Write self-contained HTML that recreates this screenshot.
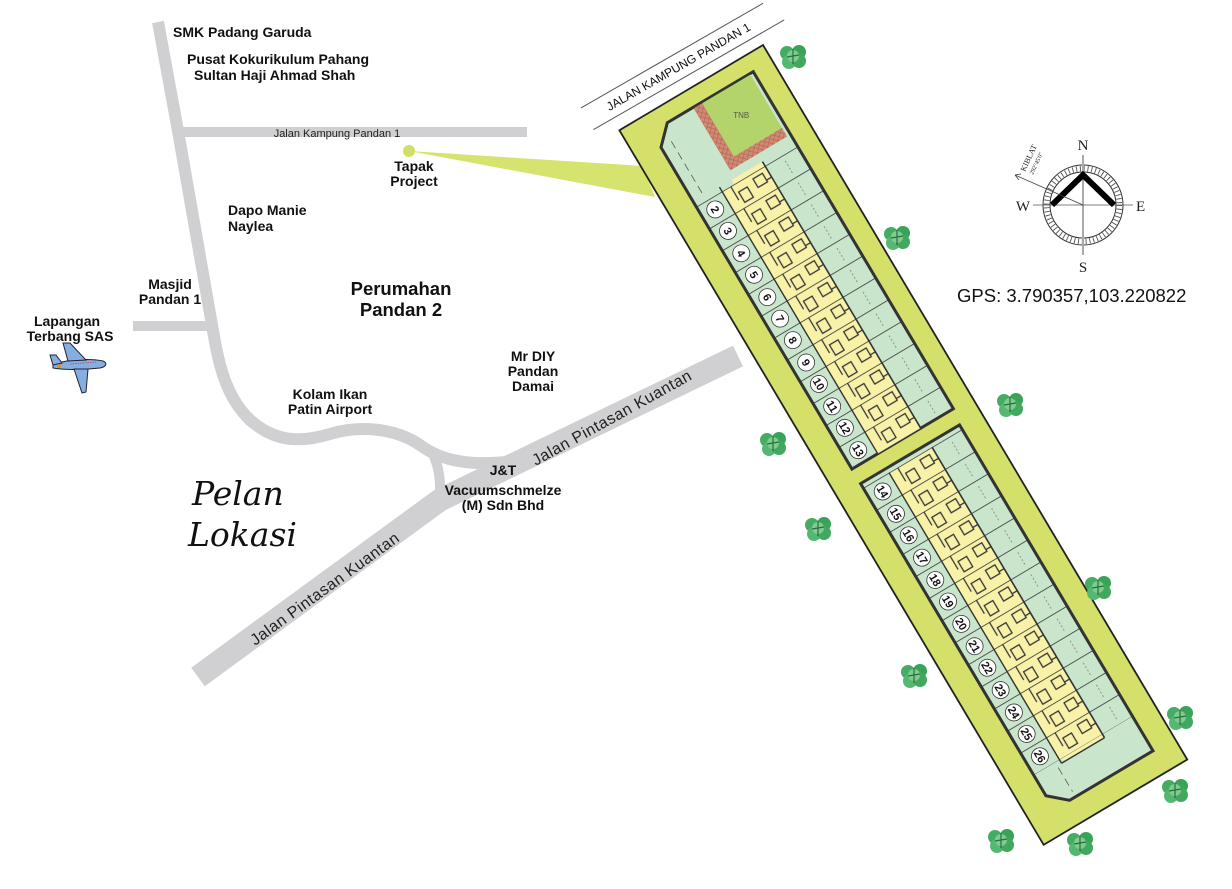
<!DOCTYPE html>
<html><head><meta charset="utf-8"><style>
html,body{margin:0;padding:0;background:#fff}
svg{display:block}
.t{font-family:"Liberation Sans",sans-serif;font-weight:bold;fill:#111}
</style></head><body>
<svg width="1232" height="889" viewBox="0 0 1232 889" xmlns="http://www.w3.org/2000/svg">
<defs>
<pattern id="u1" patternUnits="userSpaceOnUse" x="105" y="0" width="25.4" height="200">
<line x1="0" y1="22" x2="0" y2="140" stroke="#333" stroke-width="1.6"/>
<rect x="5" y="66" width="10" height="11" fill="none" stroke="#333" stroke-width="1.3"/>
<line x1="13" y1="60" x2="13" y2="66" stroke="#333" stroke-width="1.3"/>
<rect x="9" y="86" width="12" height="10" fill="none" stroke="#333" stroke-width="1.3"/>
<line x1="0" y1="100" x2="16" y2="100" stroke="#333" stroke-width="1.3"/>
<line x1="6" y1="40" x2="22" y2="40" stroke="#777" stroke-width="0.8" stroke-dasharray="2 2"/>
</pattern>
<pattern id="u2" patternUnits="userSpaceOnUse" x="432" y="0" width="25.67" height="200">
<line x1="0" y1="22" x2="0" y2="140" stroke="#333" stroke-width="1.6"/>
<rect x="5" y="66" width="10" height="11" fill="none" stroke="#333" stroke-width="1.3"/>
<line x1="13" y1="60" x2="13" y2="66" stroke="#333" stroke-width="1.3"/>
<rect x="9" y="86" width="12" height="10" fill="none" stroke="#333" stroke-width="1.3"/>
<line x1="0" y1="100" x2="16" y2="100" stroke="#333" stroke-width="1.3"/>
<line x1="6" y1="40" x2="22" y2="40" stroke="#777" stroke-width="0.8" stroke-dasharray="2 2"/>
</pattern>
<pattern id="brick" patternUnits="userSpaceOnUse" width="6" height="6">
<rect width="6" height="6" fill="#d08a74"/><path d="M0 6L6 0M0 0L6 6" stroke="#b0604e" stroke-width="0.6"/>
</pattern>
<g id="tree"><circle cx="-6" cy="-3" r="7" fill="#45ad63"/><circle cx="6" cy="-4" r="7" fill="#3aa35a"/><circle cx="-4" cy="6" r="7" fill="#55b872"/><circle cx="6" cy="5" r="7" fill="#42a860"/><circle cx="0" cy="0" r="6" fill="#7fcc8f"/><path d="M0 -7V8M-6 1L6 -1" stroke="#2a6e40" stroke-width="1.2"/></g>
</defs>

<!-- roads -->
<g fill="none" stroke="#d0d0d2" stroke-linecap="butt" stroke-linejoin="round">
<path d="M158 22 L178 131 L212 325 C218 360 224 395 250 420 C275 442 300 443 330 434 C360 425 395 428 420 445 C440 460 470 468 522 460" stroke-width="12"/>
<path d="M432 452 C442 472 440 490 440 504" stroke-width="10"/>
<line x1="180" y1="132" x2="527" y2="132" stroke-width="10"/>
<line x1="133" y1="326" x2="214" y2="326" stroke-width="10"/>
<polyline points="198,677 440,500 738,356" stroke-width="23"/>
</g>

<!-- tapak wedge -->
<polygon points="409,151 643,166 655,197" fill="#d6e36e"/>
<circle cx="409" cy="151" r="6" fill="#d2df66"/>

<!-- site plan -->
<g transform="translate(763,45) rotate(59.3)">
<rect x="0" y="0" width="831" height="167" fill="#d4e06a" stroke="#222" stroke-width="1.8"/>
<polygon points="18,22 410,22 410,140 36,140 18,122" fill="#c9e6cd" stroke="#333" stroke-width="3"/>
<rect x="19" y="26" width="62" height="56" fill="#b2d46a"/>
<text x="50" y="57" font-family="Liberation Sans,sans-serif" font-size="8" fill="#555" text-anchor="middle" transform="rotate(-59.3 50 55)">TNB</text>
<rect x="19" y="82" width="72" height="10" fill="url(#brick)"/>
<rect x="81" y="26" width="10" height="66" fill="url(#brick)"/>
<polygon points="100,60 410,60 410,110 105,110 105,96 100,96" fill="#f8f2a8"/>
<rect x="105" y="22" width="305" height="118" fill="url(#u1)"/>
<line x1="100" y1="60" x2="410" y2="60" stroke="#333" stroke-width="1.6"/>
<line x1="100" y1="110" x2="410" y2="110" stroke="#333" stroke-width="1.4"/>
<line x1="36" y1="128" x2="100" y2="128" stroke="#555" stroke-width="0.8" stroke-dasharray="8 5"/>
<polygon points="427,25 806,25 806,122 790,140 427,140" fill="#c9e6cd" stroke="#333" stroke-width="3"/>
<polygon points="432,60 770,60 770,104 766,110 432,110" fill="#f8f2a8"/>
<rect x="432" y="25" width="334" height="115" fill="url(#u2)"/>
<line x1="432" y1="60" x2="770" y2="60" stroke="#333" stroke-width="1.6"/>
<line x1="432" y1="110" x2="770" y2="110" stroke="#333" stroke-width="1.4"/>
<line x1="770" y1="60" x2="770" y2="110" stroke="#333" stroke-width="1.4"/>
<line x1="772" y1="115" x2="800" y2="115" stroke="#555" stroke-width="0.8" stroke-dasharray="8 5"/>
<g font-family="Liberation Sans,sans-serif" font-weight="bold" font-size="11" text-anchor="middle" fill="#111">
<g fill="#fff" stroke="#333" stroke-width="0.8">
<circle cx="117" cy="125" r="8.5"/><circle cx="142" cy="125" r="8.5"/><circle cx="168" cy="125" r="8.5"/><circle cx="193" cy="125" r="8.5"/><circle cx="219" cy="125" r="8.5"/><circle cx="244" cy="125" r="8.5"/><circle cx="269" cy="125" r="8.5"/><circle cx="295" cy="125" r="8.5"/><circle cx="320" cy="125" r="8.5"/><circle cx="346" cy="125" r="8.5"/><circle cx="371" cy="125" r="8.5"/><circle cx="397" cy="125" r="8.5"/>
<circle cx="445" cy="125" r="8.5"/><circle cx="471" cy="125" r="8.5"/><circle cx="496" cy="125" r="8.5"/><circle cx="522" cy="125" r="8.5"/><circle cx="548" cy="125" r="8.5"/><circle cx="573" cy="125" r="8.5"/><circle cx="599" cy="125" r="8.5"/><circle cx="625" cy="125" r="8.5"/><circle cx="650" cy="125" r="8.5"/><circle cx="676" cy="125" r="8.5"/><circle cx="702" cy="125" r="8.5"/><circle cx="727" cy="125" r="8.5"/><circle cx="753" cy="125" r="8.5"/>
</g>
<text x="117" y="129">2</text><text x="142" y="129">3</text><text x="168" y="129">4</text><text x="193" y="129">5</text><text x="219" y="129">6</text><text x="244" y="129">7</text><text x="269" y="129">8</text><text x="295" y="129">9</text><text x="320" y="129">10</text><text x="346" y="129">11</text><text x="371" y="129">12</text><text x="397" y="129">13</text>
<text x="445" y="129">14</text><text x="471" y="129">15</text><text x="496" y="129">16</text><text x="522" y="129">17</text><text x="548" y="129">18</text><text x="573" y="129">19</text><text x="599" y="129">20</text><text x="625" y="129">21</text><text x="650" y="129">22</text><text x="676" y="129">23</text><text x="702" y="129">24</text><text x="727" y="129">25</text><text x="753" y="129">26</text>
</g>
</g>

<g transform="translate(678,66) rotate(-29.9)">
<line x1="-105" y1="-12" x2="105" y2="-12" stroke="#555" stroke-width="1"/>
<line x1="-105" y1="13" x2="115" y2="13" stroke="#555" stroke-width="1"/>
<text x="0" y="5" font-family="Liberation Sans,sans-serif" font-size="12" text-anchor="middle" fill="#111">JALAN KAMPUNG PANDAN 1</text>
</g>

<use href="#tree" x="793" y="56"/><use href="#tree" x="897" y="237"/><use href="#tree" x="1010" y="404"/><use href="#tree" x="773" y="443"/><use href="#tree" x="818" y="528"/><use href="#tree" x="1098" y="587"/><use href="#tree" x="914" y="675"/><use href="#tree" x="1180" y="717"/><use href="#tree" x="1175" y="790"/><use href="#tree" x="1001" y="840"/><use href="#tree" x="1080" y="843"/>

<g transform="translate(1083,205)">
<circle r="40" fill="none" stroke="#333" stroke-width="1"/>
<circle r="33" fill="#fff" stroke="#333" stroke-width="1"/>
<circle r="40" fill="none" stroke="#555" stroke-width="6" stroke-dasharray="1 3.2" transform="scale(0.91)"/>
<line x1="0" y1="-50" x2="0" y2="50" stroke="#aaa" stroke-width="2"/>
<line x1="-50" y1="0" x2="50" y2="0" stroke="#555" stroke-width="0.8"/>
<polyline points="-31,0 0,-30 31,0" fill="none" stroke="#000" stroke-width="6"/>
<line x1="0" y1="0" x2="-68" y2="-30" stroke="#444" stroke-width="0.8"/>
<path d="M-68 -30 l6 -1 M-68 -30 l4 5" stroke="#444" stroke-width="0.8" fill="none"/>
<text x="0" y="-55" font-family="Liberation Serif,serif" font-size="15" text-anchor="middle" fill="#222">N</text>
<text x="0" y="67" font-family="Liberation Serif,serif" font-size="15" text-anchor="middle" fill="#222">S</text>
<text x="-53" y="6" font-family="Liberation Serif,serif" font-size="15" text-anchor="end" fill="#222">W</text>
<text x="53" y="6" font-family="Liberation Serif,serif" font-size="15" fill="#222">E</text>
<text transform="translate(-58,-33) rotate(-65)" font-family="Liberation Serif,serif" font-size="8" fill="#222">KIBLAT</text>
<text transform="translate(-50,-30) rotate(-65)" font-family="Liberation Serif,serif" font-size="6" fill="#222">292°45'0"</text>
</g>
<text x="957" y="302" font-family="Liberation Sans,sans-serif" font-size="18.5" fill="#111">GPS: 3.790357,103.220822</text>

<g font-family="Liberation Sans,sans-serif" font-size="16" fill="#222" letter-spacing="0.5">
<text transform="translate(325,589) rotate(-36)" text-anchor="middle" dy="5">Jalan  Pintasan Kuantan</text>
<text transform="translate(612,418) rotate(-29)" text-anchor="middle" dy="5">Jalan  Pintasan Kuantan</text>
</g>
<text x="337" y="137" font-family="Liberation Sans,sans-serif" font-size="11" fill="#222" text-anchor="middle">Jalan Kampung Pandan 1</text>

<g class="t" font-size="14">
<text x="173" y="37">SMK Padang Garuda</text>
<text x="187" y="64">Pusat Kokurikulum Pahang</text>
<text x="194" y="80">Sultan Haji Ahmad Shah</text>
<text x="414" y="171" text-anchor="middle">Tapak</text>
<text x="414" y="186" text-anchor="middle">Project</text>
<text x="228" y="215">Dapo Manie</text>
<text x="228" y="231">Naylea</text>
<text x="170" y="289" text-anchor="middle">Masjid</text>
<text x="170" y="304" text-anchor="middle">Pandan 1</text>
<text x="67" y="326" text-anchor="middle">Lapangan</text>
<text x="70" y="341" text-anchor="middle">Terbang SAS</text>
<text x="330" y="399" text-anchor="middle">Kolam Ikan</text>
<text x="330" y="414" text-anchor="middle">Patin Airport</text>
<text x="533" y="361" text-anchor="middle">Mr DIY</text>
<text x="533" y="376" text-anchor="middle">Pandan</text>
<text x="533" y="391" text-anchor="middle">Damai</text>
<text x="503" y="475" text-anchor="middle">J&amp;T</text>
<text x="503" y="495" text-anchor="middle">Vacuumschmelze</text>
<text x="503" y="510" text-anchor="middle">(M) Sdn Bhd</text>
<text x="401" y="295" text-anchor="middle" font-size="18.5">Perumahan</text>
<text x="401" y="316" text-anchor="middle" font-size="18.5">Pandan 2</text>
</g>
<g font-family="DejaVu Serif,Liberation Serif,serif" font-style="italic" font-size="33" fill="#111">
<text x="192" y="505">Pelan</text>
<text x="188" y="546">Lokasi</text>
</g>

<g transform="translate(78,363)">
<path d="M-25 2 C-15 -3 10 -5 25 -2 C30 0 28 4 22 5 C5 7 -15 7 -25 5 Z" fill="#86aee0" stroke="#223" stroke-width="1"/>
<path d="M-10 -2 L-15 -20 L-8 -20 L8 -3 Z" fill="#86aee0" stroke="#223" stroke-width="1"/>
<path d="M-4 6 L4 30 L8 29 L10 6 Z" fill="#86aee0" stroke="#223" stroke-width="1"/>
<path d="M-25 2 L-28 -8 L-22 -8 L-16 0 Z" fill="#86aee0" stroke="#223" stroke-width="1"/>
<circle cx="-19" cy="3" r="2" fill="#e08a2a"/>
<line x1="-8" y1="1" x2="18" y2="-1" stroke="#c44" stroke-width="0.8" stroke-dasharray="1.5 1"/>
</g>
</svg>
</body></html>
